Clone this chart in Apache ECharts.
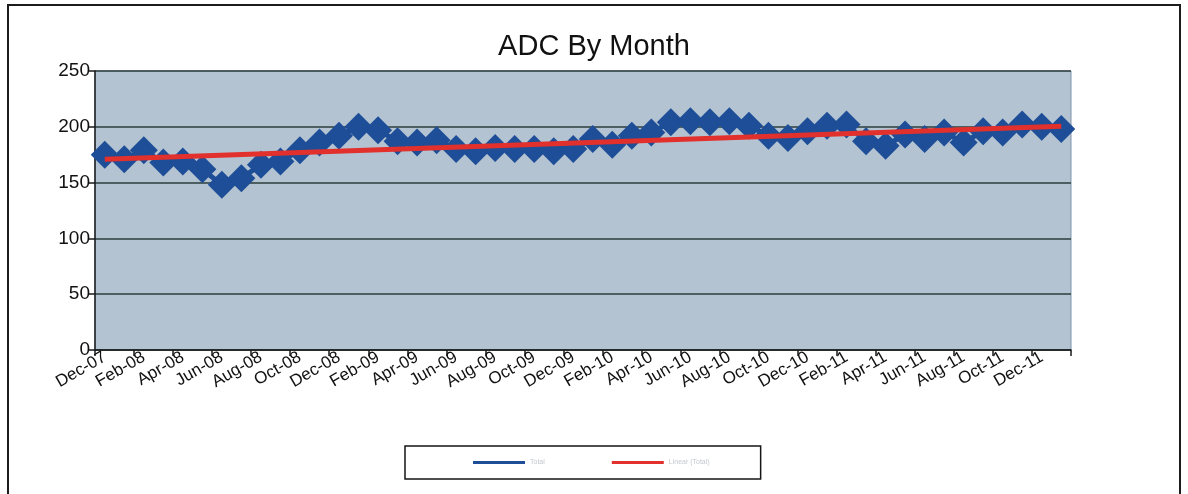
<!DOCTYPE html>
<html>
<head>
<meta charset="utf-8">
<title>ADC By Month</title>
<script src="https://cdn.jsdelivr.net/npm/echarts@6/dist/echarts.min.js"></script>
<style>
  html, body { margin: 0; padding: 0; background: #ffffff; }
  #chart { position: absolute; left: 0; top: 0; width: 1188px; height: 494px; }
  #frame {
    position: absolute; left: 7px; top: 4px; width: 1174px; height: 520px;
    border: 2px solid #1c1c1c; pointer-events: none; box-sizing: border-box;
  }
</style>
</head>
<body>
<div id="chart"></div>
<div id="frame"></div>
<script>
// Monthly categories, Dec-07 through Jan-12
const months = [
  'Dec-07', 'Jan-08', 'Feb-08', 'Mar-08', 'Apr-08', 'May-08', 'Jun-08', 'Jul-08', 'Aug-08', 'Sep-08', 'Oct-08', 'Nov-08',
  'Dec-08', 'Jan-09', 'Feb-09', 'Mar-09', 'Apr-09', 'May-09', 'Jun-09', 'Jul-09', 'Aug-09', 'Sep-09', 'Oct-09', 'Nov-09',
  'Dec-09', 'Jan-10', 'Feb-10', 'Mar-10', 'Apr-10', 'May-10', 'Jun-10', 'Jul-10', 'Aug-10', 'Sep-10', 'Oct-10', 'Nov-10',
  'Dec-10', 'Jan-11', 'Feb-11', 'Mar-11', 'Apr-11', 'May-11', 'Jun-11', 'Jul-11', 'Aug-11', 'Sep-11', 'Oct-11', 'Nov-11',
  'Dec-11', 'Jan-12'
];

// Average daily census per month
const adcValues = [
  175, 171, 179, 168, 169, 162, 148, 154, 166, 169, 179, 186,
  192, 200, 197, 187, 186, 188, 180, 178, 181, 180, 180, 178,
  180, 189, 184, 192, 195, 204, 205, 204, 205, 201, 192, 190,
  196, 201, 202, 187, 183, 193, 189, 195, 186, 196, 195, 202,
  200, 198
];

// Linear trend: value at the first and last month
const trendStart = 171;
const trendEnd = 200.5;

// Value axis ticks
const yTicks = [0, 50, 100, 150, 200, 250];

const seriesNames = ['Total', 'Linear (Total)'];

const trendValues = months.map(function (m, i) {
  if (i === 0) return trendStart;
  if (i === months.length - 1) return trendEnd;
  return null;
});

const font = '"Liberation Sans", Arial, Helvetica, sans-serif';
const chart = echarts.init(document.getElementById('chart'), null, { renderer: 'canvas' });

chart.setOption({
  backgroundColor: 'transparent',
  animation: false,
  textStyle: { fontFamily: font },
  title: {
    text: 'ADC By Month',
    left: 'center',
    top: 27,
    textStyle: { fontFamily: font, fontSize: 29, fontWeight: 'normal', color: '#111111' }
  },
  legend: {
    data: seriesNames,
    left: 405,
    top: 446,
    orient: 'horizontal',
    icon: 'rect',
    itemWidth: 52,
    itemHeight: 3,
    itemGap: 67,
    padding: [13, 51, 13, 68],
    borderColor: '#151515',
    borderWidth: 1.5,
    borderRadius: 0,
    backgroundColor: '#ffffff',
    textStyle: { fontFamily: font, fontSize: 7, color: '#c4c8d0' }
  },
  grid: {
    left: 95,
    right: 117,
    top: 71,
    bottom: 144,
    show: true,
    backgroundColor: '#b4c3d1',
    borderColor: '#7e93ab',
    borderWidth: 1,
    containLabel: false
  },
  xAxis: {
    type: 'category',
    data: months,
    boundaryGap: true,
    axisLine: { show: true, lineStyle: { color: '#1a1a1a', width: 1.5 } },
    axisTick: { show: true, interval: 1, length: 6, inside: false, lineStyle: { color: '#1a1a1a', width: 1.5 } },
    axisLabel: {
      interval: 1,
      rotate: 30,
      margin: 6,
      fontFamily: font,
      fontSize: 17,
      color: '#111111'
    },
    splitLine: { show: false }
  },
  yAxis: {
    type: 'value',
    min: yTicks[0],
    max: yTicks[yTicks.length - 1],
    interval: yTicks[1] - yTicks[0],
    axisLine: { show: true, lineStyle: { color: '#1a1a1a', width: 1.5 } },
    axisTick: { show: true, length: 7, inside: false, lineStyle: { color: '#1a1a1a', width: 1.5 } },
    axisLabel: { margin: 5, fontFamily: font, fontSize: 19, color: '#111111' },
    splitLine: { show: true, lineStyle: { color: '#2c3e3b', width: 1.5 } }
  },
  series: [
    {
      name: seriesNames[0],
      type: 'line',
      data: adcValues,
      color: '#1d4e97',
      symbol: 'diamond',
      symbolSize: [28, 28],
      showAllSymbol: true,
      lineStyle: { color: '#1d4e97', width: 5 },
      itemStyle: { color: '#1d4e97', borderWidth: 0 },
      z: 2
    },
    {
      name: seriesNames[1],
      type: 'line',
      data: trendValues,
      connectNulls: true,
      color: '#e2302c',
      showSymbol: false,
      symbol: 'none',
      lineStyle: { color: '#e2302c', width: 5 },
      z: 3
    }
  ]
});
</script>
</body>
</html>
